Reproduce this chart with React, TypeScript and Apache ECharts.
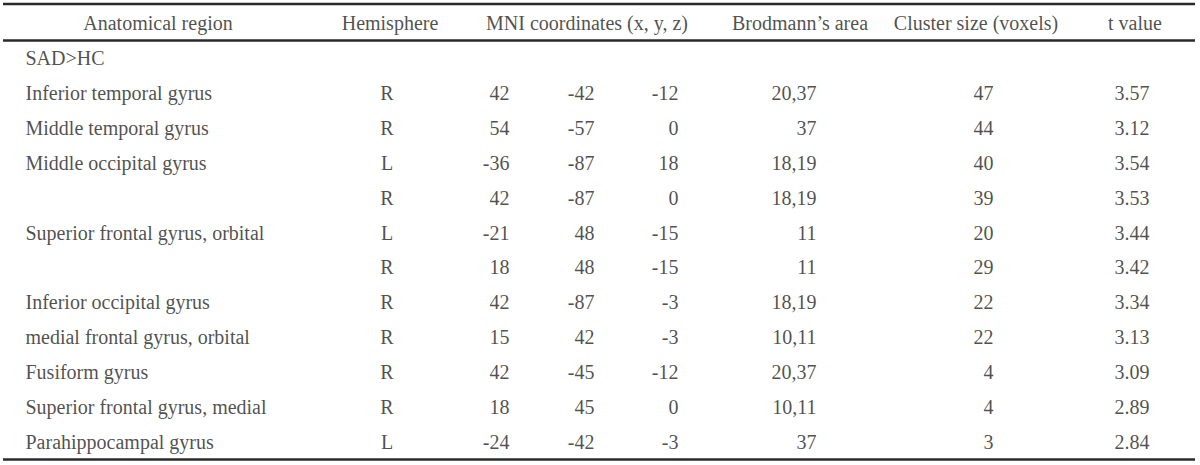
import React, { useEffect, useRef } from "react";
import * as echarts from "echarts";

// ---- Data ----
const headers = [
  "Anatomical region",
  "Hemisphere",
  "MNI coordinates (x, y, z)",
  "Brodmann\u2019s area",
  "Cluster size (voxels)",
  "t value",
];
const groupLabel = "SAD>HC";
const regions = [
  "Inferior temporal gyrus",
  "Middle temporal gyrus",
  "Middle occipital gyrus",
  "",
  "Superior frontal gyrus, orbital",
  "",
  "Inferior occipital gyrus",
  "medial frontal gyrus, orbital",
  "Fusiform gyrus",
  "Superior frontal gyrus, medial",
  "Parahippocampal gyrus",
];
const hemispheres = ["R", "R", "L", "R", "L", "R", "R", "R", "R", "R", "L"];
const mniX = [42, 54, -36, 42, -21, 18, 42, 15, 42, 18, -24];
const mniY = [-42, -57, -87, -87, 48, 48, -87, 42, -45, 45, -42];
const mniZ = [-12, 0, 18, 0, -15, -15, -3, -3, -12, 0, -3];
const brodmann = ["20,37", "37", "18,19", "18,19", "11", "11", "18,19", "10,11", "20,37", "10,11", "37"];
const clusterSize = [47, 44, 40, 39, 20, 29, 22, 22, 4, 4, 3];
const tValues = [3.57, 3.12, 3.54, 3.53, 3.44, 3.42, 3.34, 3.13, 3.09, 2.89, 2.84];

// ---- Layout (positions / styles) ----
const W = 1200;
const H = 465;
const GRID_TOP = 5.5;
const GRID_BOTTOM_EDGE = 459.5;
const FONT = "'Liberation Serif', 'Times New Roman', serif";
const FONT_SIZE = 20;
const TEXT_COLOR = "#231f20";
const LINE_COLOR = "#2a2a2a";
const headerCenters = [158, 390, 587, 800, 976, 1135];

const rowKeys = ["header", "group", ...regions.map((_, i) => "r" + i)];

type Align = "left" | "center" | "right";

function makeSeries(name: string, anchor: number, align: Align, rows: string[], texts: string[]) {
  const position = align === "left" ? "right" : align === "right" ? "left" : "inside";
  const data = texts
    .map((t, i) => ({ t, row: rows[i] }))
    .filter((d) => d.t !== "")
    .map((d) => ({ value: [anchor, d.row, d.t] }));
  return {
    type: "scatter",
    name,
    symbol: "circle",
    symbolSize: 1,
    silent: true,
    itemStyle: { color: "rgba(0,0,0,0)" },
    label: {
      show: true,
      position,
      distance: 0,
      formatter: (p: any) => p.value[2],
      fontFamily: FONT,
      fontSize: FONT_SIZE,
      color: TEXT_COLOR,
    },
    data,
  };
}

export default function App() {
  const ref = useRef<HTMLDivElement>(null);

  useEffect(() => {
    if (!ref.current) return;
    const chart = echarts.init(ref.current, undefined, { renderer: "svg" });
    const dataRows = regions.map((_, i) => "r" + i);
    const band = (GRID_BOTTOM_EDGE - GRID_TOP) / rowKeys.length;

    const series: any[] = [
      ...headers.map((h, i) => makeSeries("header" + i, headerCenters[i], "center", ["header"], [h])),
      makeSeries("group", 25, "left", ["group"], [groupLabel]),
      makeSeries("region", 25, "left", dataRows, regions),
      makeSeries("hemisphere", 387, "center", dataRows, hemispheres),
      makeSeries("mniX", 510, "right", dataRows, mniX.map(String)),
      makeSeries("mniY", 595, "right", dataRows, mniY.map(String)),
      makeSeries("mniZ", 679, "right", dataRows, mniZ.map(String)),
      makeSeries("brodmann", 817, "right", dataRows, brodmann),
      makeSeries("cluster", 994, "right", dataRows, clusterSize.map(String)),
      makeSeries("t", 1150, "right", dataRows, tValues.map((v) => v.toFixed(2))),
    ];

    const lineYs = [GRID_TOP - 1.5, GRID_TOP + band, GRID_BOTTOM_EDGE];

    chart.setOption({
      animation: false,
      backgroundColor: "#ffffff",
      grid: { left: 0, right: 0, top: GRID_TOP, bottom: H - GRID_BOTTOM_EDGE, containLabel: false },
      xAxis: { type: "value", min: 0, max: W, show: false },
      yAxis: { type: "category", data: rowKeys, inverse: true, show: false },
      series,
      graphic: lineYs.map((y) => ({
        type: "line",
        silent: true,
        shape: { x1: 3, y1: y, x2: 1195, y2: y },
        style: { stroke: LINE_COLOR, lineWidth: 2.5 },
      })),
    });

    return () => chart.dispose();
  }, []);

  return (
    <div
      ref={ref}
      style={{ position: "fixed", left: 0, top: 0, width: W, height: H, background: "#fff" }}
    />
  );
}
